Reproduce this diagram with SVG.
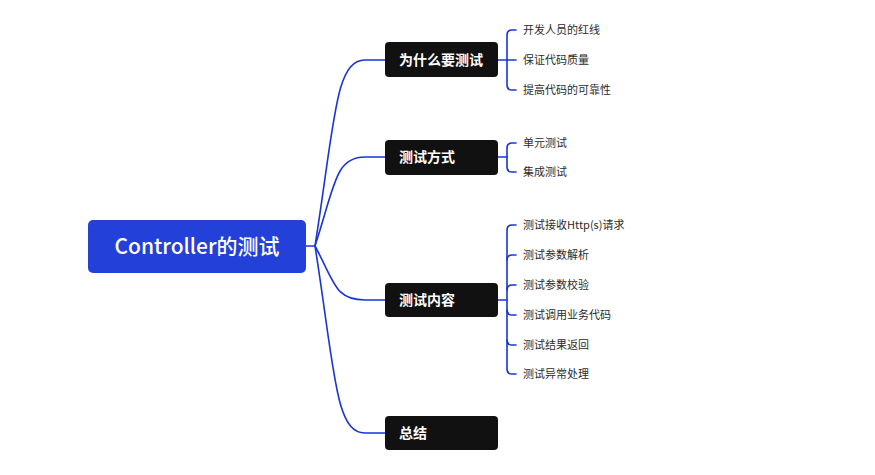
<svg xmlns="http://www.w3.org/2000/svg" width="875" height="475" viewBox="0 0 875 475">
<style>
.c{fill:none;stroke:#1a36d2;stroke-width:1.6;stroke-linecap:round}
.b{fill:#111111}
.bt{fill:#ffffff;font-family:"Noto Sans CJK SC","Noto Sans",sans-serif;font-size:14px;font-weight:bold}
.lt{fill:#2b2b2b;font-family:"Noto Sans CJK SC","Noto Sans",sans-serif;font-size:11px}
</style>
<rect width="875" height="475" fill="#ffffff"/>
<g id="connectors">
<path class="c" d="M306,246 H315"/>
<path class="c" d="M315,246 C335,120 335,60 365,60 H385"/>
<path class="c" d="M315,246 C335,185 335,157 365,157 H385"/>
<path class="c" d="M315,246 C335,283 335,300 365,300 H385"/>
<path class="c" d="M315,246 C335,372 335,433 365,433 H385"/>
<path class="c" d="M498,60 H507"/>
<path class="c" d="M516,30 H512 Q507,30 507,35 V85 Q507,90 512,90 H516"/>
<path class="c" d="M507,60 H516"/>
<path class="c" d="M498,157 H507"/>
<path class="c" d="M516,143 H512 Q507,143 507,148 V167 Q507,172 512,172 H516"/>
<path class="c" d="M498,300 H507"/>
<path class="c" d="M516,225 H512 Q507,225 507,230 V369 Q507,374 512,374 H516"/>
<path class="c" d="M507,260 Q507,255 512,255 H516"/>
<path class="c" d="M507,290 Q507,285 512,285 H516"/>
<path class="c" d="M507,310 Q507,315 512,315 H516"/>
<path class="c" d="M507,340 Q507,345 512,345 H516"/>
</g>
<g id="root">
<rect x="88" y="220" width="218" height="53" rx="5" fill="#2340d8"/>
<text x="197" y="254" text-anchor="middle" fill="#ffffff" font-family="'Noto Sans CJK SC','Noto Sans',sans-serif" font-size="21" font-weight="500">Controller的测试</text>
</g>
<g id="n1"><rect class="b" x="385" y="42" width="113" height="35" rx="4"/><text class="bt" x="399" y="65">为什么要测试</text></g>
<g id="n2"><rect class="b" x="385" y="140" width="113" height="35" rx="4"/><text class="bt" x="399" y="162">测试方式</text></g>
<g id="n3"><rect class="b" x="385" y="283" width="113" height="34" rx="4"/><text class="bt" x="399" y="305">测试内容</text></g>
<g id="n4"><rect class="b" x="385" y="416" width="113" height="34" rx="4"/><text class="bt" x="399" y="438">总结</text></g>
<g id="l1"><text class="lt" x="523" y="34">开发人员的红线</text></g>
<g id="l2"><text class="lt" x="523" y="64">保证代码质量</text></g>
<g id="l3"><text class="lt" x="523" y="94">提高代码的可靠性</text></g>
<g id="l4"><text class="lt" x="523" y="147">单元测试</text></g>
<g id="l5"><text class="lt" x="523" y="176">集成测试</text></g>
<g id="l6"><text class="lt" x="523" y="229">测试接收Http(s)请求</text></g>
<g id="l7"><text class="lt" x="523" y="259">测试参数解析</text></g>
<g id="l8"><text class="lt" x="523" y="289">测试参数校验</text></g>
<g id="l9"><text class="lt" x="523" y="319">测试调用业务代码</text></g>
<g id="l10"><text class="lt" x="523" y="349">测试结果返回</text></g>
<g id="l11"><text class="lt" x="523" y="378">测试异常处理</text></g>
</svg>
